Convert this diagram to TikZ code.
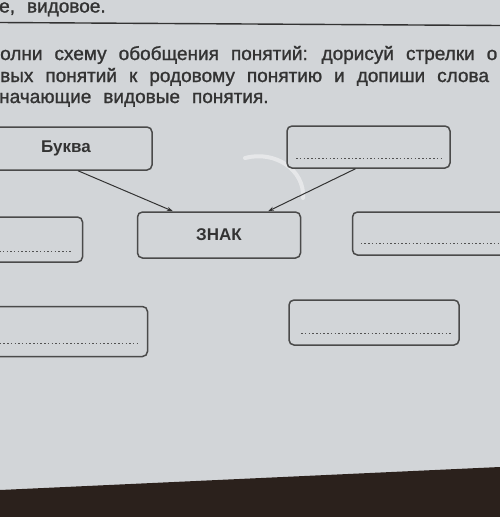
\documentclass[tikz,border=0pt]{standalone}
\usepackage{fontspec}
\setmainfont{Liberation Sans}
\newfontfamily\printfont[FakeBold=1.2]{Liberation Sans}
\usetikzlibrary{arrows.meta,calc}
\definecolor{paper}{HTML}{D2D5D8}
\definecolor{ink}{HTML}{333333}
\definecolor{boxline}{HTML}{4A4A4A}
\definecolor{table}{HTML}{2B211C}
\newcommand{\wsp}{\spaceskip=12pt plus 1pt\relax}
\tikzset{
  fbox/.style={draw=boxline, line width=1.5pt, rounded corners=5pt, fill=paper},
  lbl/.style={font=\fontsize{17}{19}\selectfont\bfseries, text=ink},
  dotline/.style={draw=ink!85, line width=1.3pt, dash pattern=on 1.5pt off 2.2pt},
  txtline/.style={anchor=base west, inner sep=0pt, text=ink,
    font=\printfont\fontsize{19}{22}\selectfont},
  arr/.style={draw=ink, line width=1pt, -{Stealth[length=6pt,width=4pt]}}
}
\begin{document}
\begin{tikzpicture}[x=1pt,y=-1pt]
\useasboundingbox (0,0) rectangle (500,517);
\clip (0,0) rectangle (500,517);
\fill[paper] (0,0) rectangle (500,517);
% table edge at the bottom
\fill[table] (0,490) -- (500,467) -- (500,517) -- (0,517) -- cycle;
% top text and rule
\node[txtline] (t0) at (-1,12.5) {\wsp е, видовое.};
\draw[ink, line width=1.4pt] (0,22.5) -- (500,25.5);
\node[txtline] (t1) at (0,60) {\wsp олни схему обобщения понятий: дорисуй стрелки о};
\node[txtline] (t2) at (0,82) {\wsp вых понятий к родовому понятию и допиши слова};
\node[txtline] (t3) at (-1,103) {\wsp начающие видовые понятия.};
% glare
\draw[white, opacity=0.45, line width=4pt, line cap=round]
  (245,158) .. controls (275,150) and (305,170) .. (303,198);
% boxes
\node[fbox, lbl, minimum width=172pt, minimum height=43pt] (bukva) at (66,148.5) {Буква};
\node[fbox, minimum width=163pt, minimum height=42pt] (tr) at (368.5,147) {};
\node[fbox, lbl, minimum width=163pt, minimum height=46pt] (znak) at (219,235) {ЗНАК};
\node[fbox, minimum width=95pt, minimum height=45pt] (ml) at (35,239.5) {};
\node[fbox, minimum width=155pt, minimum height=43pt] (mr) at (430,233.5) {};
\node[fbox, minimum width=163pt, minimum height=50pt] (bl) at (66,331.5) {};
\node[fbox, minimum width=170pt, minimum height=45pt] (br) at (374,322.5) {};
% dotted answer lines
\draw[dotline] ([xshift=10pt,yshift=10pt]tr.south west) -- ([xshift=-9pt,yshift=10pt]tr.south east);
\draw[dotline] ([xshift=9pt,yshift=12pt]mr.south west) -- ([xshift=-2pt,yshift=12pt]mr.south east);
\draw[dotline] ([xshift=5pt,yshift=11pt]ml.south west) -- ([xshift=-11pt,yshift=11pt]ml.south east);
\draw[dotline] ([xshift=16pt,yshift=14pt]bl.south west) -- ([xshift=-10pt,yshift=14pt]bl.south east);
\draw[dotline] ([xshift=13pt,yshift=12pt]br.south west) -- ([xshift=-7pt,yshift=12pt]br.south east);
% arrows
\draw[arr] ([xshift=12pt]bukva.south) -- ([xshift=-46pt]znak.north);
\draw[arr] ([xshift=-13pt]tr.south) -- ([xshift=49pt]znak.north);
\end{tikzpicture}
\end{document}
